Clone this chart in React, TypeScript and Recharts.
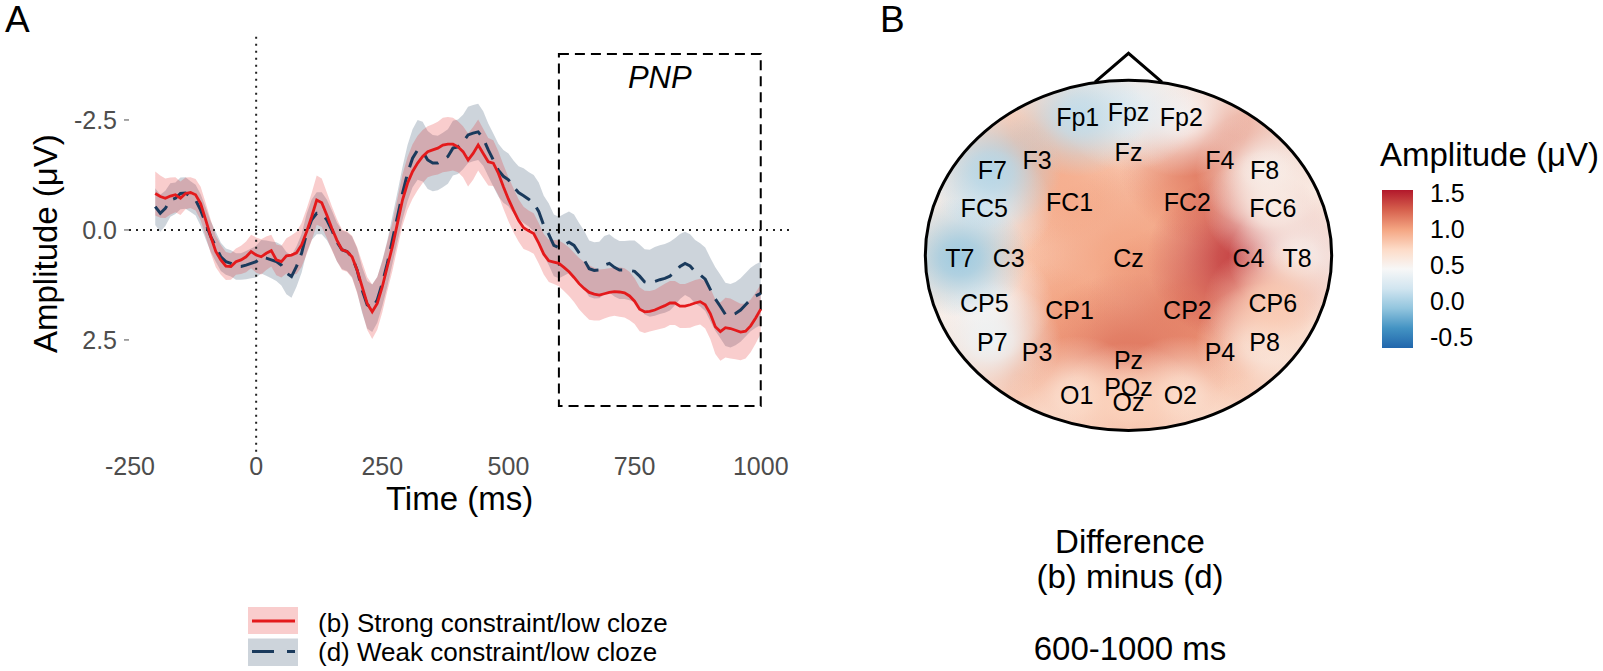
import React from 'react';
import {
  ComposedChart, Area, Line, XAxis, YAxis, ReferenceLine, ReferenceArea,
  ScatterChart, Scatter, BarChart, Bar,
} from 'recharts';

// ---- panel A: grand-average ERPs ----
const TIMES = [
  -200, -190, -180, -170, -160, -150, -140, -130, -120, -110,
  -100, -90, -80, -70, -60, -50, -40, -30, -20, -10,
  0, 10, 20, 30, 40, 50, 60, 70, 80, 90,
  100, 110, 120, 130, 140, 150, 160, 170, 180, 190,
  200, 210, 220, 230, 240, 250, 260, 270, 280, 290,
  300, 310, 320, 330, 340, 350, 360, 370, 380, 390,
  400, 410, 420, 430, 440, 450, 460, 470, 480, 490,
  500, 510, 520, 530, 540, 550, 560, 570, 580, 590,
  600, 610, 620, 630, 640, 650, 660, 670, 680, 690,
  700, 710, 720, 730, 740, 750, 760, 770, 780, 790,
  800, 810, 820, 830, 840, 850, 860, 870, 880, 890,
  900, 910, 920, 930, 940, 950, 960, 970, 980, 990,
  1000,
];

// (b) strong constraint / low cloze
const STRONG_LOW = [
  -0.83, -0.76, -0.72, -0.77, -0.80, -0.72, -0.83, -0.85, -0.80, -0.60,
  -0.23, 0.15, 0.49, 0.68, 0.82, 0.83, 0.72, 0.68, 0.61, 0.49,
  0.57, 0.61, 0.53, 0.47, 0.68, 0.72, 0.59, 0.57, 0.52, 0.34,
  0.04, -0.30, -0.68, -0.62, -0.34, -0.04, 0.23, 0.45, 0.49, 0.61,
  0.91, 1.29, 1.67, 1.86, 1.67, 1.29, 0.83, 0.38, -0.15, -0.68,
  -1.06, -1.33, -1.52, -1.67, -1.78, -1.82, -1.86, -1.93, -1.95, -1.95,
  -1.89, -1.78, -1.59, -1.74, -1.93, -1.74, -1.55, -1.52, -1.29, -0.98,
  -0.70, -0.45, -0.22, -0.05, 0.02, 0.08, 0.30, 0.55, 0.70, 0.73,
  0.76, 0.85, 0.95, 1.08, 1.22, 1.33, 1.42, 1.46, 1.48, 1.45,
  1.42, 1.40, 1.41, 1.43, 1.50, 1.62, 1.80, 1.86, 1.85, 1.82,
  1.77, 1.72, 1.66, 1.66, 1.73, 1.73, 1.70, 1.66, 1.63, 1.70,
  1.90, 2.20, 2.31, 2.22, 2.24, 2.28, 2.32, 2.30, 2.18, 2.00,
  1.80,
];

// (d) weak constraint / low cloze
const WEAK_LOW = [
  -0.53, -0.38, -0.49, -0.68, -0.72, -0.83, -0.84, -0.76, -0.68, -0.45,
  -0.15, 0.15, 0.38, 0.61, 0.72, 0.76, 0.83, 0.83, 0.80, 0.76,
  0.72, 0.61, 0.64, 0.68, 0.72, 0.80, 0.98, 1.06, 0.83, 0.53,
  0.08, -0.23, -0.38, -0.38, -0.23, 0.00, 0.27, 0.45, 0.49, 0.61,
  0.91, 1.36, 1.70, 1.78, 1.59, 1.21, 0.76, 0.23, -0.30, -0.83,
  -1.29, -1.63, -1.82, -1.78, -1.59, -1.52, -1.52, -1.59, -1.67, -1.86,
  -1.89, -2.00, -2.16, -2.20, -2.23, -2.08, -1.82, -1.59, -1.36, -1.22,
  -1.14, -0.98, -0.85, -0.78, -0.70, -0.61, -0.42, -0.10, 0.10, 0.35,
  0.40, 0.34, 0.28, 0.35, 0.52, 0.68, 0.88, 0.92, 0.91, 0.80,
  0.76, 0.85, 0.91, 0.91, 0.92, 0.94, 1.05, 1.18, 1.21, 1.17,
  1.13, 1.10, 1.05, 0.95, 0.83, 0.76, 0.82, 0.95, 1.02, 1.12,
  1.35, 1.57, 1.74, 1.92, 1.95, 1.90, 1.82, 1.70, 1.58, 1.50,
  1.44,
];

// half-width of the shaded ribbons
const STRONG_CI = [
  0.50, 0.48, 0.45, 0.42, 0.40, 0.38, 0.36, 0.35, 0.36, 0.38,
  0.38, 0.38, 0.36, 0.34, 0.32, 0.30, 0.30, 0.32, 0.35, 0.38,
  0.40, 0.40, 0.38, 0.36, 0.35, 0.36, 0.40, 0.45, 0.48, 0.50,
  0.52, 0.54, 0.56, 0.55, 0.52, 0.50, 0.48, 0.46, 0.46, 0.48,
  0.52, 0.56, 0.60, 0.62, 0.60, 0.58, 0.56, 0.55, 0.56, 0.58,
  0.60, 0.62, 0.62, 0.60, 0.58, 0.58, 0.60, 0.62, 0.62, 0.60,
  0.58, 0.58, 0.60, 0.60, 0.58, 0.56, 0.54, 0.52, 0.50, 0.50,
  0.50, 0.50, 0.48, 0.48, 0.46, 0.46, 0.46, 0.46, 0.48, 0.50,
  0.52, 0.54, 0.55, 0.56, 0.58, 0.60, 0.62, 0.60, 0.58, 0.56,
  0.55, 0.55, 0.56, 0.56, 0.55, 0.52, 0.50, 0.48, 0.46, 0.46,
  0.48, 0.50, 0.50, 0.50, 0.50, 0.50, 0.52, 0.52, 0.52, 0.54,
  0.58, 0.62, 0.66, 0.68, 0.68, 0.66, 0.64, 0.62, 0.60, 0.58,
  0.56,
];

const WEAK_CI = [
  0.42, 0.42, 0.40, 0.38, 0.36, 0.36, 0.36, 0.35, 0.35, 0.36,
  0.36, 0.35, 0.34, 0.32, 0.30, 0.30, 0.30, 0.30, 0.32, 0.34,
  0.36, 0.38, 0.40, 0.42, 0.44, 0.46, 0.48, 0.48, 0.46, 0.44,
  0.44, 0.46, 0.48, 0.48, 0.46, 0.44, 0.44, 0.44, 0.44, 0.46,
  0.50, 0.52, 0.54, 0.54, 0.52, 0.52, 0.52, 0.54, 0.56, 0.60,
  0.64, 0.66, 0.68, 0.68, 0.66, 0.64, 0.62, 0.62, 0.62, 0.62,
  0.62, 0.62, 0.64, 0.64, 0.64, 0.62, 0.60, 0.60, 0.60, 0.60,
  0.60, 0.60, 0.60, 0.62, 0.62, 0.64, 0.66, 0.68, 0.70, 0.70,
  0.70, 0.70, 0.70, 0.70, 0.68, 0.66, 0.64, 0.64, 0.64, 0.66,
  0.66, 0.66, 0.66, 0.66, 0.68, 0.70, 0.72, 0.74, 0.76, 0.78,
  0.78, 0.78, 0.78, 0.76, 0.74, 0.72, 0.72, 0.72, 0.72, 0.72,
  0.72, 0.72, 0.72, 0.72, 0.72, 0.72, 0.72, 0.72, 0.72, 0.72,
  0.72,
];

const X_TICKS = [-250, 0, 250, 500, 750, 1000];
const Y_TICKS = [-2.5, 0, 2.5];

// ---- panel B: scalp map of (b) minus (d), 600-1000 ms ----
const ELECTRODES = [
  'Fp1', 'Fpz', 'Fp2',
  'F7', 'F3', 'Fz', 'F4', 'F8',
  'FC5', 'FC1', 'FC2', 'FC6',
  'T7', 'C3', 'Cz', 'C4', 'T8',
  'CP5', 'CP1', 'CP2', 'CP6',
  'P7', 'P3', 'Pz', 'P4', 'P8',
  'O1', 'POz', 'Oz', 'O2',
];
const ELEC_X = [
  -0.25, 0, 0.26,
  -0.67, -0.45, 0, 0.45, 0.67,
  -0.71, -0.29, 0.29, 0.71,
  -0.83, -0.59, 0, 0.59, 0.83,
  -0.71, -0.29, 0.29, 0.71,
  -0.67, -0.45, 0, 0.45, 0.67,
  -0.255, 0, 0, 0.255,
];
const ELEC_Y = [
  0.79, 0.82, 0.79,
  0.486, 0.547, 0.59, 0.547, 0.486,
  0.273, 0.305, 0.305, 0.273,
  -0.013, -0.013, -0.013, -0.013, -0.013,
  -0.273, -0.31, -0.31, -0.273,
  -0.495, -0.553, -0.6, -0.553, -0.495,
  -0.8, -0.753, -0.838, -0.8,
];
const ELEC_VALUES = [
  0.10, 0.30, 0.48,
  0.05, 0.95, 0.66, 1.18, 0.50,
  0.32, 0.95, 1.00, 0.55,
  -0.05, 0.75, 1.00, 1.42, 0.50,
  0.45, 0.98, 1.12, 0.80,
  0.38, 1.02, 1.18, 0.95, 0.58,
  0.66, 1.02, 0.75, 0.66,
];
const NOSE_X = [-0.165, 0, 0.165];
const NOSE_Y = [0.99, 1.154, 0.99];

const COLORBAR_LIMITS = [-0.65, 1.54];
const COLORBAR_TICKS = [-0.5, 0, 0.5, 1, 1.5];
const RDBU = ['#2166AC', '#4393C3', '#92C5DE', '#D1E5F0', '#F7F7F7', '#FDDBC7', '#F4A582', '#D6604D', '#B2182B'];

const RED = '#E41A1C';
const NAVY = '#1A3A5C';
const FONT = '"Liberation Sans", Arial, sans-serif';

const erpData = TIMES.map((t, i) => ({
  t,
  b: STRONG_LOW[i],
  d: WEAK_LOW[i],
  bBand: [STRONG_LOW[i] - STRONG_CI[i], STRONG_LOW[i] + STRONG_CI[i]],
  dBand: [WEAK_LOW[i] - WEAK_CI[i], WEAK_LOW[i] + WEAK_CI[i]],
}));

const electrodeData = ELECTRODES.map((name, i) => ({
  name, x: ELEC_X[i], y: ELEC_Y[i], v: ELEC_VALUES[i],
  rim: Math.hypot(ELEC_X[i], ELEC_Y[i]) > 0.76,
}));
// inner sites first, rim sites over them; within each group the strongest last
const byDeviation = (a: any, b: any) => Math.abs(a.v - 0.5) - Math.abs(b.v - 0.5);
const blobData = [
  ...electrodeData.filter((e) => !e.rim).sort(byDeviation),
  ...electrodeData.filter((e) => e.rim).sort(byDeviation),
];
const noseData = NOSE_X.map((x, i) => ({ x, y: NOSE_Y[i] }));

const hexToRgb = (h: string) => [1, 3, 5].map((k) => parseInt(h.slice(k, k + 2), 16));
const valueColor = (v: number) => {
  const [lo, hi] = COLORBAR_LIMITS;
  const s = Math.max(0, Math.min(1, (v - lo) / (hi - lo))) * (RDBU.length - 1);
  const i = Math.min(RDBU.length - 2, Math.floor(s));
  const f = s - i;
  const a = hexToRgb(RDBU[i]);
  const b = hexToRgb(RDBU[i + 1]);
  const c = a.map((x, k) => Math.round(x + (b[k] - x) * f));
  return `rgb(${c[0]},${c[1]},${c[2]})`;
};

// head chart geometry
const HEAD_W = 447;
const HEAD_H = 429;
const HEAD_XDOM = [-1.1, 1.1];
const HEAD_YDOM = [-1.1, 1.35];
const HEAD_RX = HEAD_W / (HEAD_XDOM[1] - HEAD_XDOM[0]);
const HEAD_RY = HEAD_H / (HEAD_YDOM[1] - HEAD_YDOM[0]);

const PnpLabel = ({ viewBox }: any) => {
  if (!viewBox) return null;
  return (
    <text x={viewBox.x + viewBox.width / 2} y={viewBox.y + 34} textAnchor="middle"
      fontSize={31} fontStyle="italic" fill="#000" fontFamily={FONT}>PNP</text>
  );
};

const ErpPanel = () => (
  <ComposedChart width={820} height={520} data={erpData}
    margin={{ top: 35.5, right: 30, bottom: 520 - 451.7 - 45, left: 69 }}>
    <XAxis dataKey="t" type="number" domain={[-252, 1058]} allowDataOverflow ticks={X_TICKS} interval={0}
      axisLine={false} tickSize={5} tickMargin={1} tickLine={false}
      tick={{ fill: '#4D4D4D', fontSize: 25 }} height={45} />
    <YAxis type="number" domain={[-4.42, 5.04]} allowDataOverflow reversed ticks={Y_TICKS} interval={0}
      axisLine={false} tickSize={5} tickMargin={7} tickLine={{ stroke: '#4D4D4D' }}
      tick={{ fill: '#4D4D4D', fontSize: 25 }} width={60} tickFormatter={(v: number) => v.toFixed(1)} />
    <ReferenceLine y={0} stroke="#222" strokeWidth={2} strokeDasharray="2 5" />
    <ReferenceLine x={0} stroke="#222" strokeWidth={2} strokeDasharray="2 5" />
    <Area dataKey="dBand" type="linear" stroke="none" fill={NAVY} fillOpacity={0.22} isAnimationActive={false} />
    <Area dataKey="bBand" type="linear" stroke="none" fill={RED} fillOpacity={0.22} isAnimationActive={false} />
    <Line dataKey="d" type="linear" stroke={NAVY} strokeWidth={3} strokeDasharray="18 10" dot={false} isAnimationActive={false} />
    <Line dataKey="b" type="linear" stroke={RED} strokeWidth={2.8} dot={false} isAnimationActive={false} />
    <ReferenceArea x1={600} x2={1000} y1={-4} y2={4} fill="none" fillOpacity={0} stroke="#000"
      strokeWidth={2} strokeDasharray="10 6" label={<PnpLabel />} ifOverflow="visible" />
  </ComposedChart>
);

const HeadBase = (props: any) => {
  const { cx, cy } = props;
  return (
    <g>
      <defs>
        <clipPath id="headClip">
          <ellipse cx={cx} cy={cy} rx={HEAD_RX} ry={HEAD_RY} />
        </clipPath>
      </defs>
      <ellipse cx={cx} cy={cy} rx={HEAD_RX} ry={HEAD_RY} fill={valueColor(0.58)} />
    </g>
  );
};

const Blob = (props: any) => {
  const { cx, cy, payload } = props;
  const id = `blob-${payload.name}`;
  const col = valueColor(payload.v);
  const r = payload.rim ? 0.34 : 0.5;
  return (
    <g clipPath="url(#headClip)">
      <defs>
        <radialGradient id={id}>
          <stop offset="0" stopColor={col} stopOpacity={1} />
          <stop offset="0.3" stopColor={col} stopOpacity={0.8} />
          <stop offset="0.65" stopColor={col} stopOpacity={0.35} />
          <stop offset="1" stopColor={col} stopOpacity={0} />
        </radialGradient>
      </defs>
      <ellipse cx={cx} cy={cy} rx={HEAD_RX * r} ry={HEAD_RY * r} fill={`url(#${id})`} />
    </g>
  );
};

const ElectrodeLabel = (props: any) => {
  const { cx, cy, payload } = props;
  return (
    <text x={cx} y={cy} dy="0.36em" textAnchor="middle" fontSize={25} fill="#000" fontFamily={FONT}>
      {payload.name}
    </text>
  );
};

const HeadOutline = (props: any) => {
  const { cx, cy } = props;
  return <ellipse cx={cx} cy={cy} rx={HEAD_RX} ry={HEAD_RY} fill="none" stroke="#000" strokeWidth={3} />;
};

const Empty = () => <g />;

const HeadPanel = () => (
  <ScatterChart width={HEAD_W} height={HEAD_H} margin={{ top: 0, right: 0, bottom: 0, left: 0 }}>
    <XAxis type="number" dataKey="x" domain={HEAD_XDOM} allowDataOverflow hide />
    <YAxis type="number" dataKey="y" domain={HEAD_YDOM} allowDataOverflow hide />
    <Scatter data={[{ x: 0, y: 0 }]} shape={HeadBase} isAnimationActive={false} />
    <Scatter data={blobData} shape={Blob} isAnimationActive={false} />
    <Scatter data={electrodeData} shape={ElectrodeLabel} isAnimationActive={false} />
    <Scatter data={[{ x: 0, y: 0 }]} shape={HeadOutline} isAnimationActive={false} />
    <Scatter data={noseData} shape={Empty} line={{ stroke: '#000', strokeWidth: 3 }}
      lineJointType="linear" isAnimationActive={false} />
  </ScatterChart>
);

const Colorbar = () => (
  <BarChart width={131} height={198} data={[{ name: 'scale', range: COLORBAR_LIMITS }]}
    margin={{ top: 20, right: 0, bottom: 20, left: 0 }} barCategoryGap={0}>
    <defs>
      <linearGradient id="cbGrad" x1="0" y1="1" x2="0" y2="0">
        {RDBU.map((c, i) => <stop key={c} offset={i / (RDBU.length - 1)} stopColor={c} />)}
      </linearGradient>
    </defs>
    <XAxis dataKey="name" hide />
    <YAxis orientation="right" type="number" domain={COLORBAR_LIMITS} allowDataOverflow ticks={COLORBAR_TICKS}
      interval={0} width={100} axisLine={false} tickLine={false} tickSize={0} tickMargin={17}
      tick={{ fill: '#000', fontSize: 25 }} tickFormatter={(v: number) => v.toFixed(1)} />
    <Bar dataKey="range" fill="url(#cbGrad)" isAnimationActive={false} />
  </BarChart>
);

export default function App() {
  return (
    <div style={{
      position: 'absolute', left: 0, top: 0, width: 1603, height: 671, background: '#fff',
      fontFamily: FONT, overflow: 'hidden',
    }}>
      <div style={{ position: 'absolute', left: 0, top: 0 }}><ErpPanel /></div>
      <div style={{ position: 'absolute', left: 905, top: 19 }}><HeadPanel /></div>
      <div style={{ position: 'absolute', left: 1382, top: 170 }}><Colorbar /></div>
      <svg width={1603} height={671} style={{ position: 'absolute', left: 0, top: 0, pointerEvents: 'none' }}
        fontFamily={FONT}>
        <text x={5} y={32} fontSize={37} fill="#000">A</text>
        <text x={880} y={32} fontSize={37} fill="#000">B</text>
        <text x={459.5} y={510} fontSize={33} textAnchor="middle" fill="#000">Time (ms)</text>
        <text x={57} y={243.6} fontSize={33} textAnchor="middle" fill="#000"
          transform="rotate(-90, 57, 243.6)">Amplitude (μV)</text>

        <rect x={248} y={607} width={50} height={27} fill={RED} fillOpacity={0.22} />
        <line x1={252} x2={295} y1={621} y2={621} stroke={RED} strokeWidth={2.8} />
        <text x={318} y={632} fontSize={26} fill="#000">(b) Strong constraint/low cloze</text>
        <rect x={248} y={638.5} width={50} height={27.5} fill={NAVY} fillOpacity={0.22} />
        <line x1={252} x2={295} y1={651.5} y2={651.5} stroke={NAVY} strokeWidth={3} strokeDasharray="22 13" />
        <text x={318} y={661} fontSize={26} fill="#000">(d) Weak constraint/low cloze</text>

        <text x={1380} y={166} fontSize={33} fill="#000">Amplitude (μV)</text>
        <text x={1130} y={553} fontSize={33} textAnchor="middle" fill="#000">Difference</text>
        <text x={1130} y={588} fontSize={33} textAnchor="middle" fill="#000">(b) minus (d)</text>
        <text x={1130} y={660} fontSize={33} textAnchor="middle" fill="#000">600-1000 ms</text>
      </svg>
    </div>
  );
}
